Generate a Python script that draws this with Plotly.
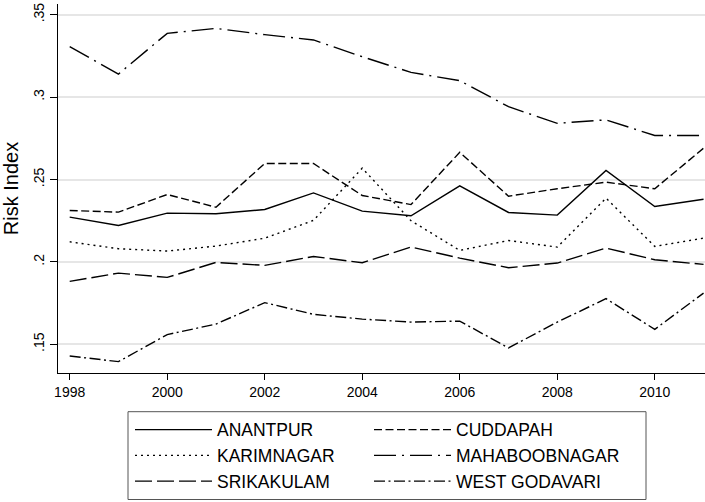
import plotly.graph_objects as go

years = list(range(1998, 2012))

anantpur = [0.2272, 0.2221, 0.2296, 0.2292, 0.2318, 0.2419, 0.2308, 0.2280, 0.2462, 0.2300, 0.2284, 0.2555, 0.2336, 0.2380]
cuddapah = [0.2312, 0.2302, 0.2409, 0.2332, 0.2597, 0.2597, 0.2403, 0.2348, 0.2665, 0.2399, 0.2444, 0.2484, 0.2444, 0.2690]
karimnagar = [0.2122, 0.2080, 0.2066, 0.2096, 0.2144, 0.2252, 0.2569, 0.2250, 0.2070, 0.2130, 0.2090, 0.2387, 0.2094, 0.2144]
mahaboobnagar = [0.3306, 0.3140, 0.3387, 0.3417, 0.3379, 0.3347, 0.3245, 0.3150, 0.3100, 0.2942, 0.2841, 0.2862, 0.2767, 0.2767]
srikakulam = [0.1882, 0.1932, 0.1906, 0.1997, 0.1979, 0.2033, 0.1995, 0.2090, 0.2023, 0.1965, 0.1993, 0.2084, 0.2013, 0.1985]
west_godavari = [0.1429, 0.1395, 0.1559, 0.1623, 0.1753, 0.1682, 0.1653, 0.1635, 0.1641, 0.1478, 0.1635, 0.1777, 0.1591, 0.1811]

series_names = ["ANANTPUR", "CUDDAPAH", "KARIMNAGAR", "MAHABOOBNAGAR", "SRIKAKULAM", "WEST GODAVARI"]
series_values = [anantpur, cuddapah, karimnagar, mahaboobnagar, srikakulam, west_godavari]
dashes = ["solid", "8px,3.5px", "2px,4px", "22px,6px,2px,6px", "17px,5px", "11px,3.5px,2px,3.5px"]
legend_column = ["legend", "legend2", "legend", "legend2", "legend", "legend2"]

y_tickvals = [0.15, 0.2, 0.25, 0.3, 0.35]
y_ticktext = [".15", ".2", ".25", ".3", ".35"]
x_tickvals = [1998, 2000, 2002, 2004, 2006, 2008, 2010]

FONT = "Liberation Sans, Arial, sans-serif"

W, H = 705, 502
ML, MR, MT, MB = 58, 0, 4, 129
PW, PH = W - ML - MR, H - MT - MB

def px_x(px):
    return (px - ML) / PW

def px_y(py):
    return (H - MB - py) / PH

fig = go.Figure()
for name, vals, dash, lg in zip(series_names, series_values, dashes, legend_column):
    fig.add_trace(go.Scatter(
        x=years, y=vals, mode="lines", name=name, legend=lg,
        line=dict(color="black", width=1.4, dash=dash),
    ))

legend_common = dict(
    orientation="v",
    yanchor="top", xanchor="left",
    borderwidth=0, bgcolor="rgba(0,0,0,0)",
    font=dict(family=FONT, size=17.5, color="black"),
    itemwidth=77,
    tracegroupgap=0,
    traceorder="normal",
)

fig.update_layout(
    width=W, height=H,
    margin=dict(l=ML, r=MR, t=MT, b=MB, autoexpand=False),
    paper_bgcolor="white", plot_bgcolor="white",
    font=dict(family=FONT, color="black", size=14),
    showlegend=True,
    legend=dict(x=px_x(130), y=px_y(411.7), **legend_common),
    legend2=dict(x=px_x(369), y=px_y(411.7), **legend_common),
    shapes=[dict(
        type="rect", xref="paper", yref="paper",
        x0=px_x(128), x1=px_x(646), y0=px_y(411.7), y1=px_y(499.5),
        line=dict(color="#555555", width=1), fillcolor="rgba(0,0,0,0)",
    )],
)

fig.update_xaxes(
    range=[1997.76, 2011.03],
    tickvals=x_tickvals,
    ticks="outside", ticklen=6, tickcolor="black", tickwidth=1,
    showline=True, linecolor="black", linewidth=1,
    showgrid=False, zeroline=False,
    tickfont=dict(size=14),
)
fig.update_yaxes(
    range=[0.1326, 0.3565],
    tickvals=y_tickvals, ticktext=y_ticktext,
    tickangle=-90,
    ticks="outside", ticklen=7, tickcolor="black", tickwidth=1,
    showline=True, linecolor="black", linewidth=1,
    showgrid=True, gridcolor="#e6e6e6", gridwidth=1.5,
    zeroline=False,
    tickfont=dict(size=14),
    title=dict(text="Risk Index", font=dict(size=20), standoff=12),
)

fig.write_html(
    "out.html",
    config={"displayModeBar": False},
    post_script="document.body.style.margin='0px';",
)
